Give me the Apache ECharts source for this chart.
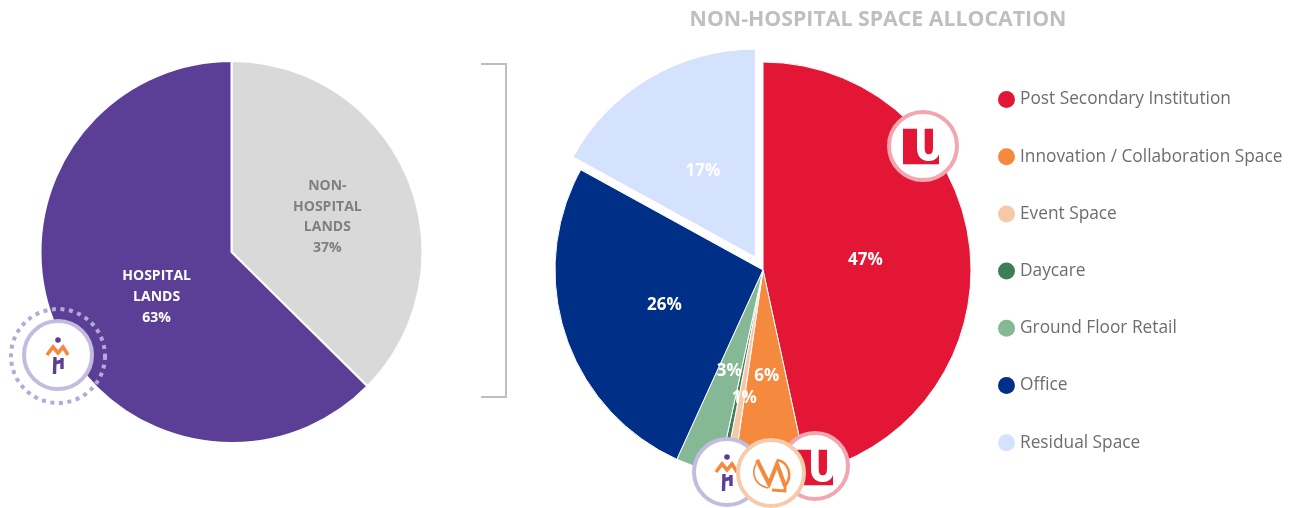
<!DOCTYPE html>
<html><head><meta charset="utf-8">
<style>html,body{margin:0;padding:0;background:#fff}#c{width:1297px;height:508px}</style>
<script src="https://cdn.jsdelivr.net/npm/echarts@6/dist/echarts.min.js"></script>
</head><body><div id="c"></div>
<script>
const landNames = ['NON-\nHOSPITAL\nLANDS', 'HOSPITAL\nLANDS'];
const landValues = [37.4, 62.6];
const landLabels = ['37%', '63%'];
const spaceNames = ['Post Secondary Institution','Innovation / Collaboration Space','Event Space','Daycare','Ground Floor Retail','Office','Residual Space'];
const spaceValues = [46.6, 5.7, 0.7, 0.4, 3.4, 26.2, 17];
const spaceLabels = ['47%','6%','1%','','3%','26%','17%'];
const spaceColors = ['#e41636','#f58a3f','#f7c8a6','#3f7d58','#85b894','#002f87','#d5e2fd'];
const titleText = 'NON-HOSPITAL SPACE ALLOCATION';

const FONT = '"Open Sans", sans-serif';
const pathShapes = {
  uOuter:'M100 88H142V145Q142 185 180 185Q200 185 208 165V195H100Z',
  uInner:'M165 88H190V145Q190 165 177 165Q165 165 165 145Z',
  pBody:'M55 357L54.5 374M62 358V369M55 363L62 361',
  pArms:'M47 355L53 347L58 353L63 347L68 355',
  vmThin:'M-12 -14C-20 -6 -20 10 -3 14',
  vmV:'M-14 -14L-2 10L6 -10L14 12',
  vmArc:'M6 -14C18 -12 22 2 14 12',
  vmArrow:'M1 16L14 17L14 10'
};
Object.keys(pathShapes).forEach(k => echarts.graphic.registerShape(k, echarts.graphic.extendPath(pathShapes[k])));

function ring(cx, cy, r, color, z) {
  return {type:'circle', z, shape:{cx, cy, r}, style:{fill:'#fff', stroke:color, lineWidth:4}};
}
function uLogo(cx, cy, z) {
  const s = 1/3, o = {x:cx-157*s, y:cy-140*s, scaleX:s, scaleY:s, z};
  return [
    Object.assign({type:'uOuter', style:{fill:'#e41636'}}, o),
    Object.assign({type:'uInner', style:{fill:'#e41636'}}, o)
  ];
}
function personLogo(cx, cy, z) {
  const o = {x:cx-58, y:cy-355, z};
  return [
    Object.assign({type:'circle', shape:{cx:58, cy:340, r:2.8}, style:{fill:'#5b3f96'}}, o),
    Object.assign({type:'pBody', style:{fill:'none', stroke:'#5b3f96', lineWidth:3.4}}, o),
    Object.assign({type:'pArms', style:{fill:'none', stroke:'#f58a3f', lineWidth:3.6}}, o)
  ];
}
function vmLogo(cx, cy, z) {
  const o = {x:cx, y:cy, z};
  const c = '#f58a3f';
  return [
    Object.assign({type:'vmThin', style:{fill:'none', stroke:c, lineWidth:1.6}}, o),
    Object.assign({type:'vmV', style:{fill:'none', stroke:c, lineWidth:4}}, o),
    Object.assign({type:'vmArc', style:{fill:'none', stroke:c, lineWidth:2.6}}, o),
    Object.assign({type:'vmArrow', style:{fill:'none', stroke:c, lineWidth:2.8}}, o)
  ];
}
const graphics = [
  {type:'polyline', z:1, shape:{points:[[481,64],[506,64],[506,397],[481,397]]}, style:{fill:'none', stroke:'#bfbfbf', lineWidth:2}},
  {type:'circle', z:10, shape:{cx:58, cy:356, r:47}, style:{fill:'none', stroke:'#b5a9d8', lineWidth:4, lineDash:[4,4.6]}},
  ring(58,355,34,'#c3bce0',11), ...personLogo(58,355,12),
  ring(923,146,34,'#f3a5b0',11), ...uLogo(922,146,12),
  ring(815,466,33,'#f3a5b0',11), ...uLogo(816,467,12),
  ring(727,472,33,'#c3bce0',13), ...personLogo(727,472,14),
  ring(771,473,33,'#f7caa8',15), ...vmLogo(771,474,16)
];
const spaceLabelShift = [[-4,2],[0,-1],[-1,23],[0,0],[0,0],[3,1],[2,6]];
const chart = echarts.init(document.getElementById('c'), null, {renderer:'canvas'});
chart.setOption({
  animation:false,
  backgroundColor:'#fff',
  title:{text:titleText, left:873, top:4, textAlign:'center',
    textStyle:{fontFamily:FONT, fontSize:21.3, fontWeight:'bold', color:'#bfbfbf'}},
  legend:{orient:'vertical', left:998, top:91, padding:0, itemWidth:17, itemHeight:17, itemGap:40.2, icon:'circle',
    data:spaceNames, selectedMode:false, itemStyle:{borderWidth:0},
    textStyle:{fontFamily:FONT, fontSize:17.3, lineHeight:17, color:'#6d6d6d'}},
  series:[
    {type:'pie', name:'Lands', center:[231.5,252], radius:[0,191], startAngle:90, clockwise:true, silent:true,
     itemStyle:{borderColor:'#fff', borderWidth:2},
     label:{position:'inside', fontFamily:FONT, fontWeight:'bold', fontSize:14, lineHeight:20.7},
     labelLine:{show:false},
     labelLayout(p){ return p.dataIndex===0 ? {dx:5, dy:3} : {dx:16, dy:7}; },
     data:[
       {name:landNames[0], value:landValues[0], itemStyle:{color:'#d9d9d9'},
        label:{color:'#7f7f7f', formatter:landNames[0]+'\n'+landLabels[0]}},
       {name:landNames[1], value:landValues[1], itemStyle:{color:'#5b3f96'},
        label:{color:'#fff', formatter:landNames[1]+'\n'+landLabels[1]}}
     ]},
    {type:'pie', name:'Space', center:[763,270], radius:[0,208], startAngle:90, clockwise:true, silent:true,
     selectedMode:'multiple', selectedOffset:15,
     itemStyle:{borderColor:'#fff', borderWidth:1},
     label:{position:'inside', fontFamily:FONT, fontWeight:'bold', fontSize:17, color:'#fff'},
     labelLine:{show:false},
     labelLayout(p){ const s = spaceLabelShift[p.dataIndex]; return {dx:s[0], dy:s[1]}; },
     data:spaceNames.map((n,i)=>({name:n, value:spaceValues[i], selected:i===6,
       itemStyle:{color:spaceColors[i]},
       label:{formatter:spaceLabels[i]}}))}
  ],
  graphic:graphics
});
</script></body></html>
